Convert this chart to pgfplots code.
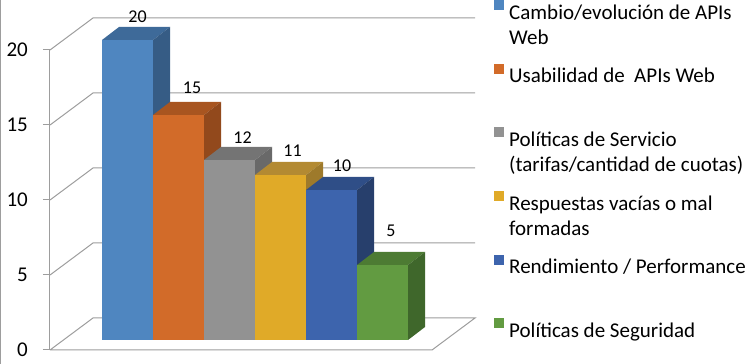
\documentclass[border=0pt]{standalone}
\usepackage{pgfplots}
\pgfplotsset{compat=1.18}
\usepackage{fontspec}
\setmainfont{Carlito}
\definecolor{gridgray}{HTML}{9D9D9D}
\definecolor{cAf}{HTML}{4F86C0}\definecolor{cAt}{HTML}{3E6A99}\definecolor{cAs}{HTML}{365C85}
\definecolor{cBf}{HTML}{D26B29}\definecolor{cBt}{HTML}{A85520}\definecolor{cBs}{HTML}{92491C}
\definecolor{cCf}{HTML}{929292}\definecolor{cCt}{HTML}{747474}\definecolor{cCs}{HTML}{696969}
\definecolor{cDf}{HTML}{E0AA28}\definecolor{cDt}{HTML}{B38A32}\definecolor{cDs}{HTML}{9E7A2B}
\definecolor{cEf}{HTML}{3D64AD}\definecolor{cEt}{HTML}{2F4E87}\definecolor{cEs}{HTML}{273F6C}
\definecolor{cFf}{HTML}{629B41}\definecolor{cFt}{HTML}{4D7B33}\definecolor{cFs}{HTML}{3F672B}
\newcommand{\legtext}[1]{\parbox[t]{245bp}{\raggedright\fontsize{21bp}{25bp}\selectfont #1}}
\begin{document}
\begin{tikzpicture}
% ---------- frame axis: pixel x, value y (0 at front floor) ----------
\begin{axis}[
  at={(0,0)}, anchor=south west,
  scale only axis, width=705bp, height=364bp,
  xmin=50, xmax=755, ymin=-0.93333, ymax=23.33333,
  axis line style={draw=none},
  xtick=\empty, ytick={0,5,10,15,20},
  ytick pos=left, tick align=outside, major tick length=7bp,
  tick style={color=gridgray, line width=1bp},
  yticklabel style={font=\fontsize{21bp}{25bp}\selectfont, inner sep=0pt, anchor=east, xshift=-15bp},
  /pgf/number format/assume math mode=true,
  clip=false,
]
\addplot[gridgray, line width=1bp, mark=none, forget plot] coordinates {(50,0) (50,20)};
\addplot[gridgray, line width=1bp, mark=none, forget plot] coordinates {(50,0) (93,2.1333) (475,2.1333) (432,0) (50,0)};
\addplot[gridgray, line width=1bp, mark=none, forget plot] coordinates {(50,5) (93,7.1333) (475,7.1333)};
\addplot[gridgray, line width=1bp, mark=none, forget plot] coordinates {(50,10) (93,12.1333) (475,12.1333)};
\addplot[gridgray, line width=1bp, mark=none, forget plot] coordinates {(50,15) (93,17.1333) (475,17.1333)};
\addplot[gridgray, line width=1bp, mark=none, forget plot] coordinates {(50,20) (93,22.1333) (475,22.1333)};
\addplot[gridgray, line width=1bp, mark=none, forget plot] coordinates {(0.5,-0.93333) (0.5,23.33333)};
\coordinate (bbSW) at (axis cs:0,-0.93333);
\coordinate (bbNE) at (axis cs:755,23.33333);
\end{axis}
% ---------- bars axis: pixel x, value y (0 at bar bottom) ----------
\begin{axis}[
  at={(0,0)}, anchor=south west,
  scale only axis, width=705bp, height=364bp,
  xmin=50, xmax=755, ymin=-1.6, ymax=22.66667,
  hide axis, clip=false,
  /pgf/number format/assume math mode=true,
  every node near coord/.append style={font=\fontsize{18bp}{20bp}\selectfont, anchor=center, inner sep=0pt},
  legend cell align=left,
  legend style={draw=none, fill=none, at={(axis cs:494,22.6667)}, anchor=north west,
    inner sep=0pt, row sep={63.6bp,between origins}, column sep=5bp,
    nodes={inner sep=0pt}},
  legend image code/.code={\fill[#1] (0bp,2.5bp) rectangle (10bp,12.5bp);},
]
% bar 1
\addplot[ybar, bar width=51bp, bar shift=0pt, fill=cAf, draw=none, forget plot,
  nodes near coords, nodes near coords style={xshift=10bp, yshift=23.5bp}] coordinates {(127.5,20)};
\addplot[fill=cAt, draw=none, forget plot] coordinates {(102,20) (153,20) (170,20.8667) (119,20.8667)};
\addplot[fill=cAs, draw=none, forget plot] coordinates {(153,0) (153,20) (170,20.8667) (170,0.8667)};
% bar 2
\addplot[ybar, bar width=51bp, bar shift=0pt, fill=cBf, draw=none, forget plot,
  nodes near coords, nodes near coords style={xshift=13.5bp, yshift=27.5bp}] coordinates {(178.5,15)};
\addplot[fill=cBt, draw=none, forget plot] coordinates {(153,15) (204,15) (221,15.8667) (170,15.8667)};
\addplot[fill=cBs, draw=none, forget plot] coordinates {(204,0) (204,15) (221,15.8667) (221,0.8667)};
% bar 3
\addplot[ybar, bar width=51bp, bar shift=0pt, fill=cCf, draw=none, forget plot,
  nodes near coords, nodes near coords style={xshift=13bp, yshift=22.5bp}] coordinates {(229.5,12)};
\addplot[fill=cCt, draw=none, forget plot] coordinates {(204,12) (255,12) (272,12.8667) (221,12.8667)};
\addplot[fill=cCs, draw=none, forget plot] coordinates {(255,0) (255,12) (272,12.8667) (272,0.8667)};
% bar 4
\addplot[ybar, bar width=51bp, bar shift=0pt, fill=cDf, draw=none, forget plot,
  nodes near coords, nodes near coords style={xshift=12bp, yshift=24bp}] coordinates {(280.5,11)};
\addplot[fill=cDt, draw=none, forget plot] coordinates {(255,11) (306,11) (323,11.8667) (272,11.8667)};
\addplot[fill=cDs, draw=none, forget plot] coordinates {(306,0) (306,11) (323,11.8667) (323,0.8667)};
% bar 5
\addplot[ybar, bar width=51bp, bar shift=0pt, fill=cEf, draw=none, forget plot,
  nodes near coords, nodes near coords style={xshift=10.5bp, yshift=24.5bp}] coordinates {(331.5,10)};
\addplot[fill=cEt, draw=none, forget plot] coordinates {(306,10) (357,10) (374,10.8667) (323,10.8667)};
\addplot[fill=cEs, draw=none, forget plot] coordinates {(357,0) (357,10) (374,10.8667) (374,0.8667)};
% bar 6
\addplot[ybar, bar width=51bp, bar shift=0pt, fill=cFf, draw=none, forget plot,
  nodes near coords, nodes near coords style={xshift=8.5bp, yshift=34bp}] coordinates {(382.5,5)};
\addplot[fill=cFt, draw=none, forget plot] coordinates {(357,5) (408,5) (425,5.8667) (374,5.8667)};
\addplot[fill=cFs, draw=none, forget plot] coordinates {(408,0) (408,5) (425,5.8667) (425,0.8667)};
% legend
\addlegendimage{fill=cAf, draw=none}
\addlegendentry{\legtext{Cambio/evolución de APIs\\Web}}
\addlegendimage{fill=cBf, draw=none}
\addlegendentry{\legtext{Usabilidad de\ \ APIs Web}}
\addlegendimage{fill=cCf, draw=none}
\addlegendentry{\legtext{Políticas de Servicio\\(tarifas/cantidad de cuotas)}}
\addlegendimage{fill=cDf, draw=none}
\addlegendentry{\legtext{Respuestas vacías o mal\\formadas}}
\addlegendimage{fill=cEf, draw=none}
\addlegendentry{\legtext{Rendimiento / Performance}}
\addlegendimage{fill=cFf, draw=none}
\addlegendentry{\legtext{Políticas de Seguridad}}
\end{axis}
\pgfresetboundingbox
\path[use as bounding box] (bbSW) rectangle (bbNE);
\end{tikzpicture}
\end{document}
